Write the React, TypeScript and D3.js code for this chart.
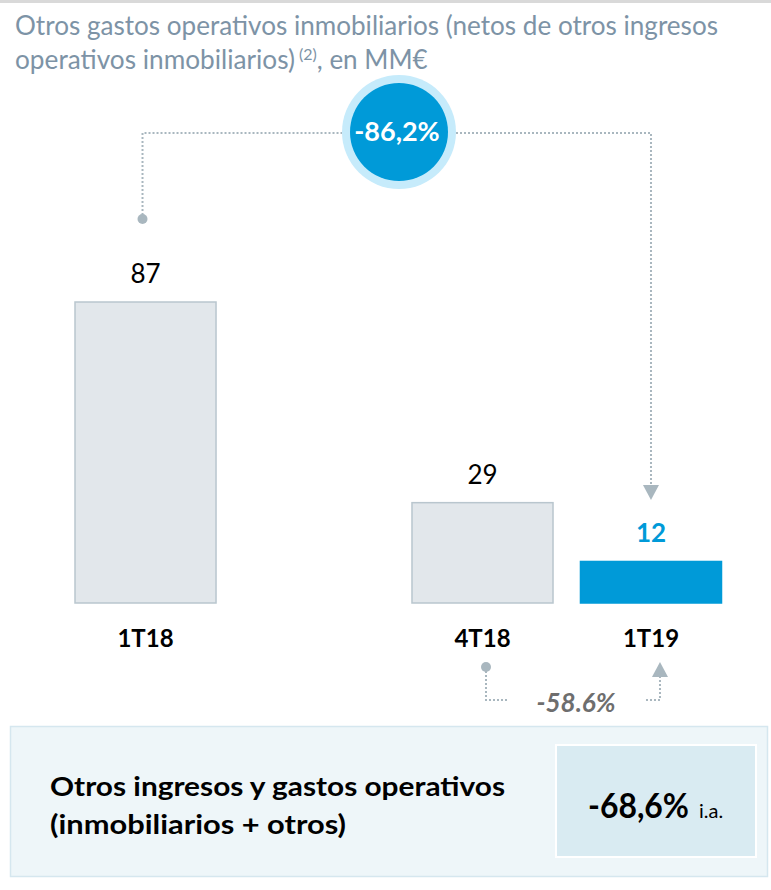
import React from "react";
import * as d3 from "d3";

const categories = ["1T18", "4T18", "1T19"];
const slots = ["1T18", "_gap", "4T18", "1T19"];
const values = [87, 29, 12];
const highlight = [false, false, true];
const titleLines = [
  "Otros gastos operativos inmobiliarios (netos de otros ingresos",
  "operativos inmobiliarios)",
];
const titleSup = "(2)";
const titleTail = ", en MM€";
const yoyChange = "-86,2%";
const qoqChange = "-58.6%";
const boxLines = ["Otros ingresos y gastos operativos", "(inmobiliarios + otros)"];
const boxValue = "-68,6%";
const boxUnit = "i.a.";

const W = 771;
const H = 890;
const FONT = "Lato, 'Open Sans', sans-serif";
const GRAY_FILL = "#e2e7eb";
const GRAY_STROKE = "#b9c6ce";
const BLUE = "#009ad8";
const DOT = "#a9b7bf";

export default function App() {
  const x = d3
    .scaleBand<string>()
    .domain(slots)
    .range([75, 721.5])
    .paddingInner(0.163)
    .paddingOuter(0);
  const y = d3.scaleLinear().domain([0, 87]).range([603, 302]);
  const bw = x.bandwidth();
  const cx = (c: string) => (x(c) as number) + bw / 2;

  // top bracket
  const lx = cx(categories[0]) - 3;
  const rx = cx(categories[2]);
  const bracketY = 133;
  const circ = { x: 399, y: 132 };
  const topPath = d3.path();
  topPath.moveTo(lx, 219);
  topPath.lineTo(lx, bracketY);
  topPath.lineTo(circ.x - 57, bracketY);
  const topPath2 = d3.path();
  topPath2.moveTo(circ.x + 57, bracketY);
  topPath2.lineTo(rx, bracketY);
  topPath2.lineTo(rx, 486);

  // bottom bracket
  const bl = cx(categories[1]) + 3.5;
  const br = cx(categories[2]) + 9;
  const botY = 700;
  const bp1 = d3.path();
  bp1.moveTo(bl, 667);
  bp1.lineTo(bl, botY);
  bp1.lineTo(bl + 22, botY);
  const bp2 = d3.path();
  bp2.moveTo(br - 14, botY);
  bp2.lineTo(br, botY);
  bp2.lineTo(br, 676);

  return (
    <svg
      width={W}
      height={H}
      style={{ position: "absolute", left: 0, top: 0, display: "block", background: "#fff" }}
      fontFamily={FONT}
    >
      <rect x={0} y={0} width={W} height={3} fill="#d9d9d9" />
      {/* title */}
      <text x={15} y={35} fontSize={26} fill="#7d93a6" fontWeight={400} textLength={703} lengthAdjust="spacingAndGlyphs">
        {titleLines[0]}
      </text>
      <text x={15} y={69} fontSize={26} fill="#7d93a6" fontWeight={400}>
        <tspan textLength={280} lengthAdjust="spacingAndGlyphs">{titleLines[1]}</tspan>
        <tspan dx={4} dy={-9} fontSize={16}>{titleSup}</tspan>
        <tspan dy={9}>{titleTail}</tspan>
      </text>

      {/* top bracket */}
      <path d={topPath.toString()} fill="none" stroke={DOT} strokeWidth={2} strokeDasharray="2,2" />
      <path d={topPath2.toString()} fill="none" stroke={DOT} strokeWidth={2} strokeDasharray="2,2" />
      <circle cx={lx} cy={219} r={5} fill={DOT} />
      <path d={`M${rx - 8},485 L${rx + 8},485 L${rx},500 Z`} fill={DOT} />
      <circle cx={circ.x} cy={circ.y} r={57} fill="#c6ebfb" />
      <circle cx={circ.x} cy={circ.y} r={49} fill={BLUE} />
      <text x={circ.x - 2} y={141} textAnchor="middle" fontSize={27} fontWeight={700} fill="#fff">
        {yoyChange}
      </text>

      {/* bars */}
      {categories.map((c, i) => (
        <g key={c}>
          <rect
            x={x(c)}
            y={y(values[i])}
            width={bw}
            height={y(0) - y(values[i])}
            fill={highlight[i] ? BLUE : GRAY_FILL}
            stroke={highlight[i] ? BLUE : GRAY_STROKE}
            strokeWidth={1.5}
          />
          <text
            x={cx(c)}
            y={y(values[i]) - 19}
            textAnchor="middle"
            fontSize={26}
            fontWeight={highlight[i] ? 700 : 400}
            fill={highlight[i] ? BLUE : "#000"}
          >
            {values[i]}
          </text>
          <text x={cx(c)} y={647} textAnchor="middle" fontSize={24} fontWeight={700} fill="#000">
            {c}
          </text>
        </g>
      ))}

      {/* bottom bracket */}
      <path d={bp1.toString()} fill="none" stroke={DOT} strokeWidth={2} strokeDasharray="2,2" />
      <path d={bp2.toString()} fill="none" stroke={DOT} strokeWidth={2} strokeDasharray="2,2" />
      <circle cx={bl} cy={667} r={5} fill={DOT} />
      <path d={`M${br - 8},677 L${br + 8},677 L${br},662 Z`} fill={DOT} />
      <text x={576} y={712} textAnchor="middle" fontSize={26} fontWeight={700} fontStyle="italic" fill="#6e6e6e">
        {qoqChange}
      </text>

      {/* summary box */}
      <rect x={10.5} y={726.5} width={757} height={150} fill="#eef6f9" stroke="#d5e7ef" strokeWidth={1.5} />
      <rect x={556} y={745} width={200} height={112} fill="#d9ebf2" stroke="#fff" strokeWidth={2} />
      <text x={50} y={796} fontSize={26} fontWeight={700} fill="#000" textLength={455} lengthAdjust="spacingAndGlyphs">
        {boxLines[0]}
      </text>
      <text x={50} y={834} fontSize={26} fontWeight={700} fill="#000" textLength={296} lengthAdjust="spacingAndGlyphs">
        {boxLines[1]}
      </text>
      <text x={588} y={818} fontSize={34} fontWeight={700} fill="#000">
        <tspan textLength={101} lengthAdjust="spacingAndGlyphs">{boxValue}</tspan>
        <tspan dx={10} fontSize={20} fontWeight={400}>{boxUnit}</tspan>
      </text>
    </svg>
  );
}
